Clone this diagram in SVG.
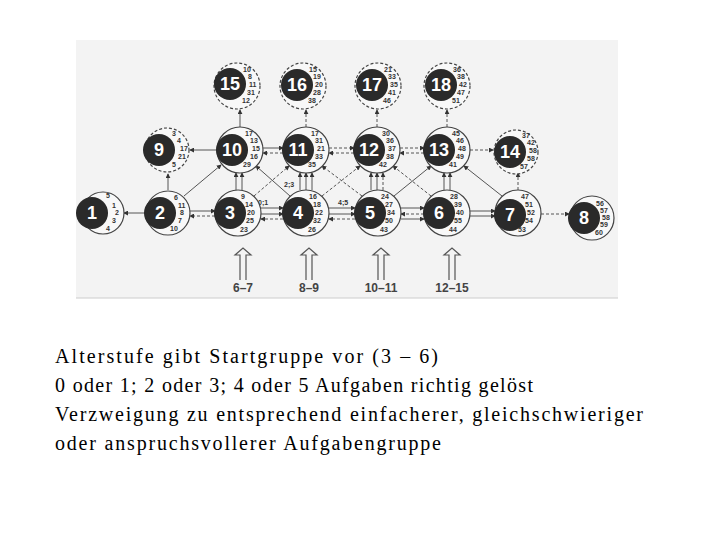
<svg xmlns="http://www.w3.org/2000/svg" width="720" height="540" viewBox="0 0 720 540">
<defs>
<marker id="a" viewBox="0 0 6 6" refX="5" refY="3" markerWidth="5" markerHeight="5" orient="auto"><path d="M0,0L6,3L0,6z" fill="#333"/></marker>
</defs>
<style>
.o{fill:#f8f8f8;stroke:#444;stroke-width:1.2}
.o2{fill:#f8f8f8;stroke:#444;stroke-width:1.2;stroke-dasharray:3,2}
.d{fill:#2a2a2a}
.n{font-family:"Liberation Sans",Arial,sans-serif;font-weight:bold;font-size:18px;fill:#fff;text-anchor:middle}
.s{font-family:"Liberation Sans",Arial,sans-serif;font-weight:bold;font-size:7px;fill:#333}
.c line{stroke:#555;stroke-width:1;marker-end:url(#a)}
.c .ds{stroke-dasharray:3,2}
.big{fill:none;stroke:#555;stroke-width:1.2}
.lb{font-family:"Liberation Sans",Arial,sans-serif;font-weight:bold;font-size:12px;fill:#444;text-anchor:middle}
.t{font-family:"Liberation Serif","Times New Roman",serif;font-size:20px;fill:#000}
</style>
<rect x="76" y="40" width="542" height="258" fill="#f3f3f3"/>
<line x1="76" y1="298" x2="618" y2="298" stroke="#ccc"/>
<g class="c">
<line x1="146" y1="213" x2="124" y2="213"/>
<line x1="190" y1="211" x2="215" y2="211"/><line x1="215" y1="216" x2="190" y2="216" class="ds"/>
<line x1="168" y1="190" x2="168" y2="174"/>
<line x1="184" y1="196" x2="221" y2="165"/>
<line x1="217" y1="150" x2="190" y2="150"/>
<line x1="240" y1="127" x2="240" y2="110"/>
<line x1="263" y1="148" x2="283" y2="148"/><line x1="283" y1="153" x2="263" y2="153" class="ds"/>
<line x1="236" y1="190" x2="236" y2="173"/><line x1="242" y1="190" x2="242" y2="173"/>
<line x1="261" y1="208" x2="283" y2="208"/><line x1="261" y1="214" x2="283" y2="214"/><line x1="283" y1="219" x2="261" y2="219" class="ds"/>
<line x1="254" y1="196" x2="289" y2="166" class="ds"/>
<line x1="290" y1="196" x2="256" y2="166"/>
<line x1="300" y1="190" x2="300" y2="173"/><line x1="306" y1="190" x2="306" y2="173"/><line x1="312" y1="190" x2="312" y2="173"/>
<line x1="329" y1="208" x2="355" y2="208"/><line x1="329" y1="214" x2="355" y2="214"/><line x1="355" y1="219" x2="329" y2="219" class="ds"/>
<line x1="322" y1="196" x2="360" y2="166" class="ds"/>
<line x1="362" y1="196" x2="322" y2="166" class="ds"/>
<line x1="371" y1="190" x2="371" y2="173"/><line x1="377" y1="190" x2="377" y2="173"/><line x1="383" y1="190" x2="383" y2="173" class="ds"/>
<line x1="394" y1="196" x2="431" y2="166"/>
<line x1="401" y1="208" x2="424" y2="208"/><line x1="424" y1="214" x2="401" y2="214" class="ds"/><line x1="401" y1="219" x2="424" y2="219"/>
<line x1="431" y1="196" x2="393" y2="166" class="ds"/>
<line x1="444" y1="190" x2="444" y2="173"/><line x1="450" y1="190" x2="450" y2="173"/>
<line x1="470" y1="211" x2="495" y2="211"/><line x1="470" y1="216" x2="495" y2="216"/>
<line x1="502" y1="196" x2="464" y2="166"/>
<line x1="518" y1="190" x2="518" y2="173" class="ds"/>
<line x1="541" y1="214" x2="569" y2="214" class="ds"/>
<line x1="329" y1="148" x2="354" y2="148" class="ds"/><line x1="354" y1="153" x2="329" y2="153" class="ds"/>
<line x1="400" y1="148" x2="424" y2="148" class="ds"/><line x1="424" y1="153" x2="400" y2="153" class="ds"/>
<line x1="470" y1="150" x2="493" y2="150" class="ds"/>
<line x1="306" y1="127" x2="306" y2="110" class="ds"/>
<line x1="377" y1="127" x2="377" y2="110" class="ds"/>
<line x1="447" y1="127" x2="447" y2="110" class="ds"/>
</g>
<text class="s" x="284" y="187">2;3</text>
<text class="s" x="258" y="205">0;1</text>
<text class="s" x="338" y="205">4;5</text>
<g id="n1"><circle class="o" cx="103" cy="213" r="21"/><circle class="d" cx="92" cy="213" r="16"/><text class="n" x="92" y="219">1</text><text class="s" x="106" y="198">5</text><text class="s" x="112" y="208">1</text><text class="s" x="115" y="215">2</text><text class="s" x="112" y="223">3</text><text class="s" x="106" y="231">4</text></g>
<g id="n2"><circle class="o" cx="168" cy="213" r="22"/><circle class="d" cx="160" cy="213" r="16"/><text class="n" x="160" y="219">2</text><text class="s" x="174" y="200">6</text><text class="s" x="178" y="208">11</text><text class="s" x="180" y="215">8</text><text class="s" x="178" y="223">7</text><text class="s" x="170" y="231">10</text></g>
<g id="n3"><circle class="o" cx="238" cy="213" r="23"/><circle class="d" cx="230" cy="213" r="16"/><text class="n" x="230" y="219">3</text><text class="s" x="241" y="199">9</text><text class="s" x="245" y="207">14</text><text class="s" x="247" y="215">20</text><text class="s" x="246" y="223">25</text><text class="s" x="240" y="232">23</text></g>
<g id="n4"><circle class="o" cx="306" cy="213" r="23"/><circle class="d" cx="298" cy="213" r="16"/><text class="n" x="298" y="219">4</text><text class="s" x="309" y="199">16</text><text class="s" x="313" y="207">18</text><text class="s" x="315" y="215">22</text><text class="s" x="313" y="223">32</text><text class="s" x="308" y="232">26</text></g>
<g id="n5"><circle class="o" cx="378" cy="213" r="23"/><circle class="d" cx="370" cy="213" r="16"/><text class="n" x="370" y="219">5</text><text class="s" x="381" y="199">24</text><text class="s" x="385" y="207">27</text><text class="s" x="387" y="215">34</text><text class="s" x="385" y="223">50</text><text class="s" x="380" y="232">43</text></g>
<g id="n6"><circle class="o" cx="447" cy="213" r="23"/><circle class="d" cx="439" cy="213" r="16"/><text class="n" x="439" y="219">6</text><text class="s" x="450" y="199">28</text><text class="s" x="454" y="207">39</text><text class="s" x="456" y="215">40</text><text class="s" x="454" y="223">55</text><text class="s" x="449" y="232">44</text></g>
<g id="n7"><circle class="o" cx="518" cy="213" r="23"/><circle class="d" cx="510" cy="215" r="16"/><text class="n" x="510" y="221">7</text><text class="s" x="521" y="199">47</text><text class="s" x="525" y="207">51</text><text class="s" x="527" y="215">52</text><text class="s" x="525" y="223">54</text><text class="s" x="518" y="232">53</text></g>
<g id="n8"><circle class="o" cx="592" cy="218" r="22"/><circle class="d" cx="584" cy="218" r="16"/><text class="n" x="584" y="224">8</text><text class="s" x="596" y="206">56</text><text class="s" x="600" y="213">57</text><text class="s" x="602" y="220">58</text><text class="s" x="600" y="227">59</text><text class="s" x="595" y="235">60</text></g>
<g id="n9"><circle class="o2" cx="167" cy="150" r="22"/><circle class="d" cx="159" cy="150" r="16"/><text class="n" x="159" y="156">9</text><text class="s" x="172" y="136">3</text><text class="s" x="177" y="143">4</text><text class="s" x="180" y="151">17</text><text class="s" x="178" y="159">21</text><text class="s" x="172" y="167">5</text></g>
<g id="n10"><circle class="o" cx="240" cy="150" r="23"/><circle class="d" cx="232" cy="150" r="16"/><text class="n" x="232" y="156">10</text><text class="s" x="245" y="136">17</text><text class="s" x="250" y="143">13</text><text class="s" x="252" y="151">15</text><text class="s" x="250" y="159">16</text><text class="s" x="243" y="167">29</text></g>
<g id="n11"><circle class="o" cx="306" cy="150" r="23"/><circle class="d" cx="298" cy="150" r="16"/><text class="n" x="298" y="156">11</text><text class="s" x="311" y="136">17</text><text class="s" x="315" y="143">31</text><text class="s" x="317" y="151">21</text><text class="s" x="315" y="159">33</text><text class="s" x="308" y="167">35</text></g>
<g id="n12"><circle class="o" cx="377" cy="150" r="23"/><circle class="d" cx="369" cy="150" r="16"/><text class="n" x="369" y="156">12</text><text class="s" x="382" y="136">30</text><text class="s" x="386" y="143">36</text><text class="s" x="388" y="151">37</text><text class="s" x="386" y="159">38</text><text class="s" x="379" y="167">42</text></g>
<g id="n13"><circle class="o" cx="447" cy="150" r="23"/><circle class="d" cx="439" cy="150" r="16"/><text class="n" x="439" y="156">13</text><text class="s" x="452" y="136">45</text><text class="s" x="456" y="143">46</text><text class="s" x="458" y="151">48</text><text class="s" x="456" y="159">49</text><text class="s" x="449" y="167">41</text></g>
<g id="n14"><circle class="o2" cx="516" cy="152" r="22"/><circle class="d" cx="510" cy="152" r="16"/><text class="n" x="510" y="158">14</text><text class="s" x="522" y="138">37</text><text class="s" x="527" y="145">42</text><text class="s" x="529" y="153">58</text><text class="s" x="527" y="161">58</text><text class="s" x="520" y="169">57</text></g>
<g id="n15"><circle class="o2" cx="237" cy="86" r="23"/><circle class="d" cx="230" cy="84" r="16"/><text class="n" x="230" y="90">15</text><text class="s" x="243" y="72">10</text><text class="s" x="248" y="79">8</text><text class="s" x="249" y="87">11</text><text class="s" x="247" y="95">31</text><text class="s" x="242" y="103">12</text></g>
<g id="n16"><circle class="o2" cx="303" cy="86" r="23"/><circle class="d" cx="297" cy="85" r="16"/><text class="n" x="297" y="91">16</text><text class="s" x="309" y="72">15</text><text class="s" x="313" y="79">19</text><text class="s" x="315" y="87">20</text><text class="s" x="313" y="95">28</text><text class="s" x="308" y="103">38</text></g>
<g id="n17"><circle class="o2" cx="378" cy="86" r="23"/><circle class="d" cx="372" cy="85" r="16"/><text class="n" x="372" y="91">17</text><text class="s" x="384" y="72">21</text><text class="s" x="388" y="79">33</text><text class="s" x="390" y="87">35</text><text class="s" x="388" y="95">41</text><text class="s" x="383" y="103">46</text></g>
<g id="n18"><circle class="o2" cx="447" cy="86" r="23"/><circle class="d" cx="441" cy="85" r="16"/><text class="n" x="441" y="91">18</text><text class="s" x="453" y="72">36</text><text class="s" x="457" y="79">38</text><text class="s" x="459" y="87">42</text><text class="s" x="457" y="95">47</text><text class="s" x="452" y="103">51</text></g>
<g id="bigarrows">
<path class="big" d="M240,280V255H235L243,248L251,255H246V280"/>
<path class="big" d="M306,280V255H301L309,248L317,255H312V280"/>
<path class="big" d="M378,280V255H373L381,248L389,255H384V280"/>
<path class="big" d="M449,280V255H444L452,248L460,255H455V280"/>
</g>
<text class="lb" x="243" y="292">6–7</text>
<text class="lb" x="309" y="292">8–9</text>
<text class="lb" x="381" y="292">10–11</text>
<text class="lb" x="452" y="292">12–15</text>
<text class="t" x="55" y="363" textLength="383" lengthAdjust="spacing">Alterstufe gibt Startgruppe vor (3 – 6)</text>
<text class="t" x="55" y="392" textLength="478" lengthAdjust="spacing">0 oder 1; 2 oder 3; 4 oder 5 Aufgaben richtig gelöst</text>
<text class="t" x="55" y="421" textLength="588" lengthAdjust="spacing">Verzweigung zu entsprechend einfacherer, gleichschwieriger</text>
<text class="t" x="55" y="450" textLength="386" lengthAdjust="spacing">oder anspruchsvollerer Aufgabengruppe</text>
</svg>
